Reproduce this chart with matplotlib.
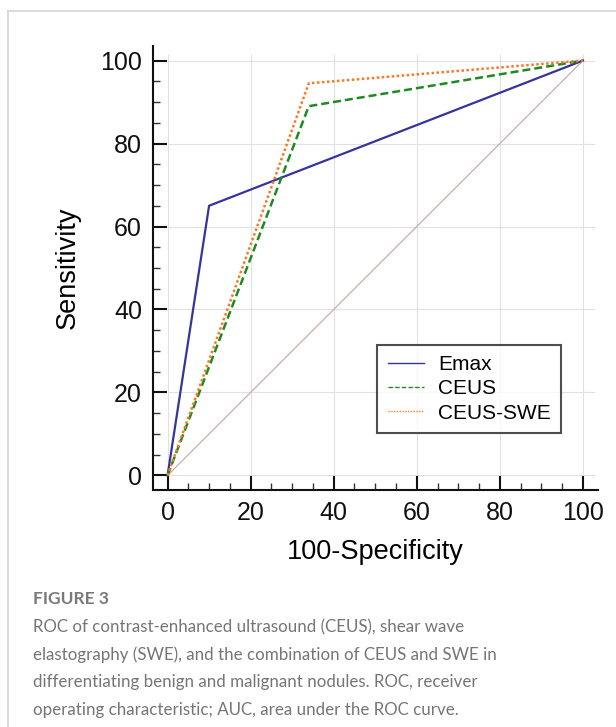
import numpy as np
import matplotlib
matplotlib.use('Agg')
from matplotlib import pyplot as plt
from matplotlib.lines import Line2D
from matplotlib.ticker import MultipleLocator

# ROC points (100-Specificity, Sensitivity)
emax_x = [0, 10, 100]
emax_y = [0, 65, 100]
ceus_x = [0, 34, 100]
ceus_y = [0, 89, 100]
swe_x = [0, 34, 100]
swe_y = [0, 94.5, 100]
diag = [0, 100]
ticks = [0, 20, 40, 60, 80, 100]

caption_head = "FIGURE 3"
caption_lines = [
    "ROC of contrast-enhanced ultrasound (CEUS), shear wave",
    "elastography (SWE), and the combination of CEUS and SWE in",
    "differentiating benign and malignant nodules. ROC, receiver",
    "operating characteristic; AUC, area under the ROC curve.",
]

plt.rcParams['font.family'] = ['Liberation Sans', 'DejaVu Sans']

W, H = 616, 727
fig = plt.figure(figsize=(W / 100, H / 100), dpi=100)
ax = fig.add_axes([153 / W, 1 - 490 / H, (597.5 - 153) / W, (490 - 46) / H])

lim = (-3.5, 103.5)
ax.set_xlim(lim)
ax.set_ylim(lim)

# light grid, only inside the data range
ax.hlines(ticks, 0, 103, color='#e0e0e0', lw=0.8, zorder=0)
ax.vlines(ticks, 0, 101.5, color='#e0e0e0', lw=0.8, zorder=0)

ax.plot(diag, diag, color='#c4a4a4', lw=0.8, zorder=1)
ax.plot(emax_x, emax_y, color='#34349c', lw=1.6, label='Emax', zorder=3)
ax.plot(ceus_x, ceus_y, color='#1f8a1f', lw=1.8, ls=(0, (3.2, 1.6)), label='CEUS', zorder=3)
ax.plot(swe_x, swe_y, color='#f57a28', lw=1.8, ls=(0, (1, 1)), label='CEUS-SWE', zorder=4)

for s in ['top', 'right']:
    ax.spines[s].set_visible(False)
for s in ['left', 'bottom']:
    ax.spines[s].set_linewidth(1.5)
    ax.spines[s].set_color('#111111')

ax.set_xticks(ticks)
ax.set_yticks(ticks)
ax.xaxis.set_minor_locator(MultipleLocator(5))
ax.yaxis.set_minor_locator(MultipleLocator(5))
ax.tick_params(which='major', direction='in', length=10, width=1.5, labelsize=18, pad=8, colors='#111111')
ax.tick_params(which='minor', direction='in', length=5, width=1.0, colors='#333333')

ax.set_xlabel('100-Specificity', fontsize=19.5, labelpad=10)
ax.set_ylabel('Sensitivity', fontsize=19.5, labelpad=14)

leg = ax.legend(loc='upper left', bbox_to_anchor=(0.505, 0.327), fontsize=15, frameon=True,
                fancybox=False, handlelength=1.75, handletextpad=0.65, labelspacing=0.25,
                borderpad=0.5, borderaxespad=0)
leg.get_frame().set_edgecolor('#222222')
leg.get_frame().set_linewidth(1.5)
for h in leg.get_lines():
    h.set_linewidth(1.0)

# figure frame (left and top borders)
fig.add_artist(Line2D([8 / W, 8 / W], [0, 1 - 11 / H], transform=fig.transFigure, color='#d4d4d4', lw=1.2))
fig.add_artist(Line2D([8 / W, 1], [1 - 11 / H, 1 - 11 / H], transform=fig.transFigure, color='#d4d4d4', lw=1.2))

cap_font = ['Lato', 'DejaVu Sans']
fig.text(33 / W, 1 - 599 / H, caption_head, fontsize=12.5, color='#7a7a7a', va='center',
         family=cap_font, fontweight='bold')
for i, line in enumerate(caption_lines):
    fig.text(33 / W, 1 - (627 + 27.7 * i) / H, line, fontsize=12.2, color='#757575',
             va='center', family=cap_font)

fig.savefig('out.png', dpi=100, facecolor='white')
